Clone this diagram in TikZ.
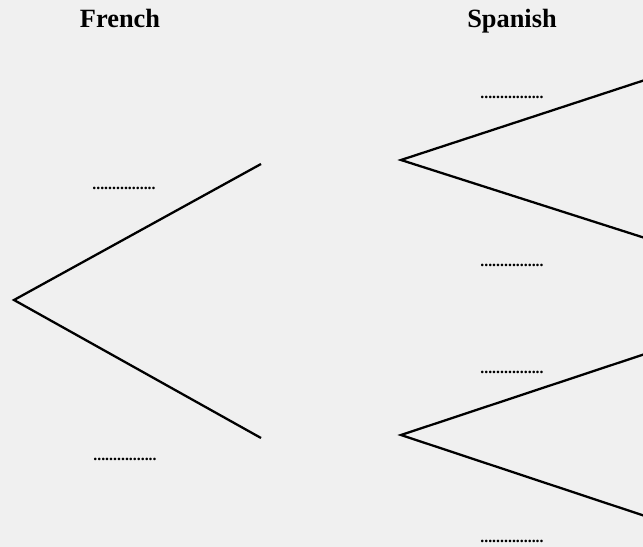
\documentclass[tikz,border=0pt]{standalone}
\usepackage{fontspec}
\setmainfont{Liberation Serif}
\usepackage{tikz}
\usetikzlibrary{positioning}
\definecolor{paper}{HTML}{F0F0F0}

\begin{document}
\begin{tikzpicture}[
  x=0.02cm, y=-0.02cm,
  head/.style={font=\fontsize{15}{15}\selectfont\bfseries, inner sep=0pt, anchor=base},
  gap/.style={font=\fontsize{9}{9}\selectfont\bfseries, inner sep=0pt, anchor=base},
  branch/.style={line width=1.3pt},
]
\fill[paper] (0,0) rectangle (643,547);
\useasboundingbox (0,0) rectangle (643,547);

% headings
\node[head] (french) at (120,28) {French};
\node[head] (spanish) at (512,28) {Spanish};

% first choice
\coordinate (r0) at (14,300);
\coordinate (f1) at (261,164);
\coordinate (f2) at (261,438);
\draw[branch] (f1) -- (r0) -- (f2);
\node[gap] (pf1) at (124,190) {................};
\node[gap] (pf2) at (125,460) {................};

% second choice
\coordinate (s1) at (401,160);
\coordinate (s11) at (645,80);
\coordinate (s12) at (645,238);
\draw[branch] (s11) -- (s1) -- (s12);
\coordinate (s2) at (401,435);
\coordinate (s21) at (645,354);
\coordinate (s22) at (645,516);
\draw[branch] (s21) -- (s2) -- (s22);
\node[gap] (ps11) at (512,99) {................};
\node[gap] (ps12) at (512,267) {................};
\node[gap] (ps21) at (512,374) {................};
\node[gap] (ps22) at (512,542) {................};
\end{tikzpicture}
\end{document}
